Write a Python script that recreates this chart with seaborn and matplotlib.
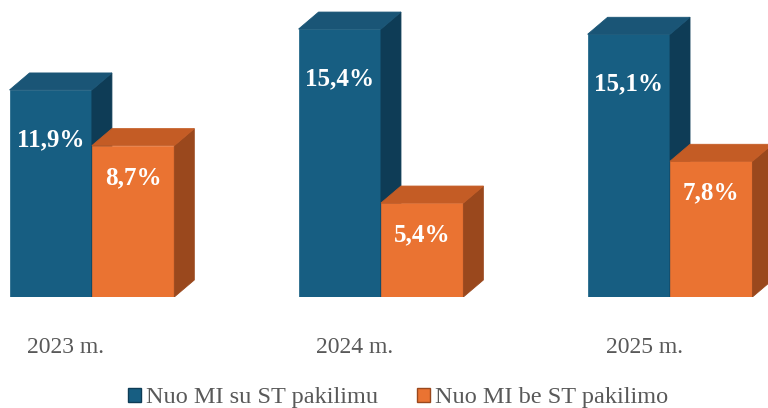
import matplotlib
matplotlib.use("Agg")
import matplotlib.pyplot as plt
import seaborn as sns
import pandas as pd
from matplotlib.patches import Polygon, Patch
from matplotlib.transforms import ScaledTranslation

years = ["2023 m.", "2024 m.", "2025 m."]
series_names = ["Nuo MI su ST pakilimu", "Nuo MI be ST pakilimo"]
with_st = [11.9, 15.4, 15.1]
without_st = [8.7, 5.4, 7.8]

df = pd.DataFrame({
    "year": years * 2,
    "series": [series_names[0]] * 3 + [series_names[1]] * 3,
    "value": with_st + without_st,
})

front = {series_names[0]: "#175E82", series_names[1]: "#EA7332"}
top_c = {series_names[0]: "#1A5576", series_names[1]: "#C45C25"}
side_c = {series_names[0]: "#0E3C56", series_names[1]: "#9A481D"}

sns.set_theme(style="white")
plt.rcParams["font.family"] = ["Liberation Serif", "DejaVu Serif"]

fig = plt.figure(figsize=(7.68, 4.08), dpi=100)
ax = fig.add_axes([0, (408 - 297) / 408, 1, 297 / 408])

sns.barplot(data=df, x="year", y="value", hue="series", hue_order=series_names,
            palette=front, width=0.57, gap=0, ax=ax, legend=False,
            linewidth=0, saturation=1)

ax.set_xlim(-0.318, 2.339)
ax.set_ylim(0, 17.07)

W, H = 768, 297
dx = 20 * (2.339 + 0.318) / W
dy = 17 * 17.07 / H

label_off = {series_names[0]: -36, series_names[1]: -23}
for i, (cont, name) in enumerate(zip(ax.containers, series_names)):
    z = 2 + i
    for bar, val in zip(cont, [with_st, without_st][i]):
        bar.set_zorder(z)
        bar.set_edgecolor(front[name])
        bar.set_linewidth(0.5)
        x0 = bar.get_x()
        w = bar.get_width()
        h = bar.get_height()
        side = Polygon([(x0 + w, 0), (x0 + w + dx, dy), (x0 + w + dx, h + dy), (x0 + w, h)],
                       closed=True, facecolor=side_c[name], edgecolor=side_c[name],
                       linewidth=0.6, zorder=z + 0.1)
        top = Polygon([(x0, h), (x0 + dx, h + dy), (x0 + w + dx, h + dy), (x0 + w, h)],
                      closed=True, facecolor=top_c[name], edgecolor=top_c[name],
                      linewidth=0.6, zorder=z + 0.2)
        ax.add_patch(side)
        ax.add_patch(top)
        ax.annotate(f"{val:.1f}%".replace(".", ","), (x0 + w / 2, h),
                    xytext=(0, label_off[name]), textcoords="offset points",
                    ha="center", va="center", color="white", fontsize=18,
                    fontweight="bold", zorder=10)

ax.set_xlabel("")
ax.set_ylabel("")
ax.set_yticks([])
for s in ax.spines.values():
    s.set_visible(False)
ax.tick_params(axis="x", length=0, pad=29, labelsize=17, labelcolor="#595959")
for lab in ax.get_xticklabels():
    lab.set_transform(lab.get_transform() + ScaledTranslation(-0.26, 0, fig.dpi_scale_trans))

handles = [Patch(facecolor=front[n], edgecolor=side_c[n], linewidth=1) for n in series_names]
fig.legend(handles, series_names, loc="center", bbox_to_anchor=(398 / 768, 10 / 408),
           ncol=2, frameon=False, fontsize=17.5, labelcolor="#595959",
           handlelength=0.55, handleheight=0.55, handletextpad=0.2, columnspacing=1.6)

fig.savefig("out.png", dpi=100)
